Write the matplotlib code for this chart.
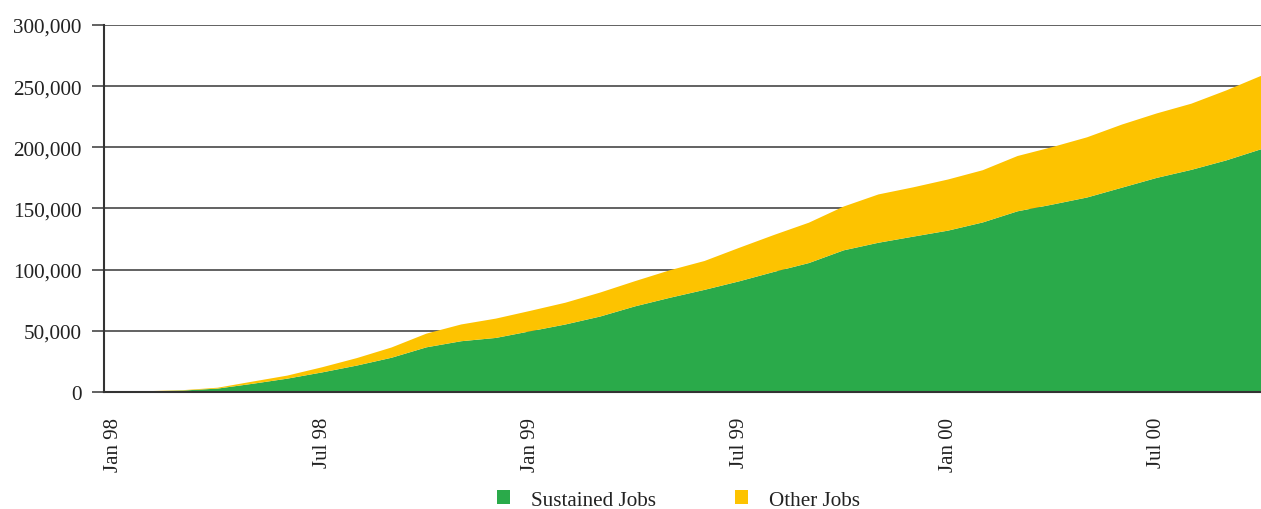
import matplotlib
matplotlib.use("Agg")
import matplotlib.pyplot as plt
from matplotlib.patches import Patch
from matplotlib.ticker import FuncFormatter
import numpy as np

# ---- data (monthly, Jan 98 .. Oct 00) ----
months = list(range(34))
tick_positions = [0, 6, 12, 18, 24, 30]
tick_labels = ["Jan 98", "Jul 98", "Jan 99", "Jul 99", "Jan 00", "Jul 00"]

sustained = [0, 500, 1200, 2800, 6700, 10900, 16000, 21600, 28000, 36500,
             41500, 44200, 49700, 55200, 61700, 70000, 77000, 83500, 90500, 98200,
             105400, 115800, 122000, 127000, 131900, 138600, 147700, 153200, 159000, 167000,
             175000, 181600, 189300, 198400]
total = [0, 700, 1500, 3500, 8500, 13400, 20200, 27700, 36400, 47700,
         55200, 60000, 66400, 73000, 81300, 90600, 99500, 107100, 117900, 128400,
         138400, 151600, 161500, 167300, 173700, 181300, 192900, 200200, 208200, 218600,
         227700, 235700, 246500, 258400]
other = [t - s for t, s in zip(total, sustained)]

series_names = ["Sustained Jobs", "Other Jobs"]
colors = ["#2AAA4A", "#FDC300"]

plt.rcParams['font.family'] = ['Liberation Serif', 'DejaVu Serif']

W, H = 1261, 510
fig = plt.figure(figsize=(W / 100, H / 100), dpi=100)
ax = fig.add_axes([104 / W, 1 - 393 / H, (W - 104) / W, (393 - 26) / H])

ax.stackplot(months, sustained, other, colors=colors, linewidth=0, zorder=3)

ax.set_xlim(-0.27, 33.0)
ax.set_ylim(0, 300000)
ax.set_yticks(np.arange(0, 300001, 50000))
ax.yaxis.set_major_formatter(FuncFormatter(lambda v, p: f"{int(v):,}"))
ax.grid(axis='y', color='#555555', linewidth=1.3, zorder=1)
ax.set_axisbelow(True)

ax.set_xticks(tick_positions)
ax.set_xticklabels(tick_labels, rotation=90, va='top', ha='center')
ax.tick_params(axis='x', length=0, pad=18, labelsize=15, colors='#222222')
ax.tick_params(axis='y', length=9, width=1.3, color='#555555', pad=7,
               labelsize=15.2, labelcolor='#222222')

for s in ['top', 'right']:
    ax.spines[s].set_visible(False)
ax.spines['left'].set_color('#333333')
ax.spines['left'].set_linewidth(1.5)
ax.spines['bottom'].set_color('#333333')
ax.spines['bottom'].set_linewidth(1.5)
ax.spines['bottom'].set_zorder(4)

handles = [Patch(facecolor=c, edgecolor='none', label=n) for c, n in zip(colors, series_names)]
fig.legend(handles=handles, loc='center', bbox_to_anchor=((495 + 862) / 2 / W, 1 - 501 / H),
           ncol=2, frameon=False, fontsize=15.2, handlelength=0.65, handleheight=0.65,
           handletextpad=1.0, columnspacing=3.7, labelcolor='#222222')

fig.savefig("out.png", dpi=100)
